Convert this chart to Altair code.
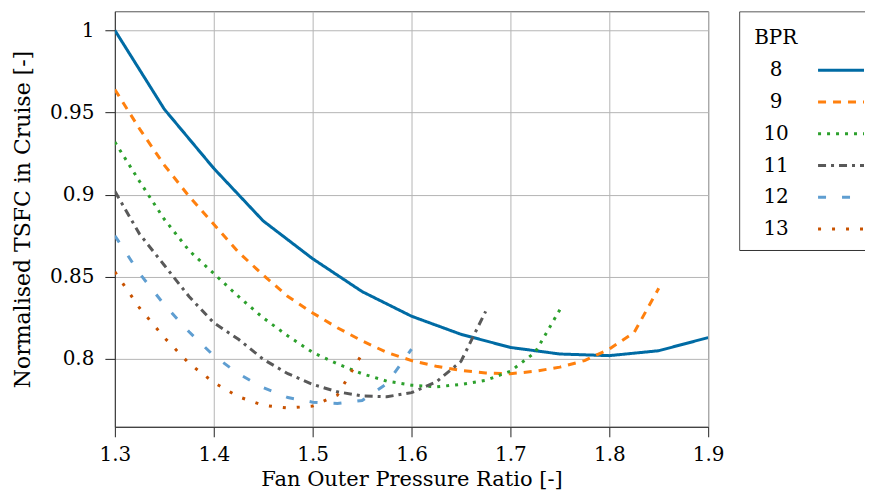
import altair as alt
import pandas as pd

FONT = "DejaVu Serif"

bpr_levels = ["8", "9", "10", "11", "12", "13"]

fpr_8 = [1.30, 1.35, 1.40, 1.45, 1.50, 1.55, 1.60, 1.65, 1.70, 1.75, 1.80, 1.85, 1.90]
tsfc_8 = [1.000, 0.952, 0.916, 0.884, 0.861, 0.841, 0.826, 0.815, 0.807, 0.803, 0.802, 0.805, 0.813]

fpr_9 = [1.300, 1.325, 1.350, 1.375, 1.400, 1.425, 1.450, 1.475, 1.500, 1.525, 1.550, 1.575,
         1.600, 1.625, 1.650, 1.675, 1.700, 1.725, 1.750, 1.775, 1.800, 1.825, 1.850]
tsfc_9 = [0.964, 0.940, 0.918, 0.899, 0.882, 0.865, 0.851, 0.838, 0.828, 0.819, 0.811, 0.804,
          0.799, 0.7955, 0.793, 0.7915, 0.791, 0.7925, 0.795, 0.799, 0.806, 0.816, 0.843]

fpr_10 = [1.300, 1.325, 1.350, 1.375, 1.400, 1.425, 1.450, 1.475, 1.500, 1.525, 1.550, 1.575,
          1.600, 1.625, 1.650, 1.675, 1.700, 1.725, 1.750]
tsfc_10 = [0.932, 0.908, 0.885, 0.866, 0.852, 0.838, 0.825, 0.814, 0.804, 0.797, 0.791, 0.7865,
           0.784, 0.783, 0.7845, 0.787, 0.7925, 0.804, 0.830]

fpr_11 = [1.300, 1.325, 1.350, 1.375, 1.400, 1.425, 1.450, 1.475, 1.500, 1.525, 1.550, 1.575,
          1.600, 1.625, 1.650, 1.675]
tsfc_11 = [0.902, 0.876, 0.857, 0.838, 0.822, 0.812, 0.7998, 0.791, 0.7845, 0.780, 0.7775, 0.777,
           0.7795, 0.786, 0.7985, 0.829]

fpr_12 = [1.300, 1.325, 1.350, 1.375, 1.400, 1.425, 1.450, 1.475, 1.500, 1.525, 1.550, 1.575, 1.600]
tsfc_12 = [0.875, 0.852, 0.833, 0.8165, 0.802, 0.791, 0.7825, 0.7765, 0.7737, 0.7729, 0.7747,
           0.785, 0.806]

fpr_13 = [1.300, 1.325, 1.350, 1.375, 1.400, 1.425, 1.450, 1.475, 1.500, 1.525, 1.550]
tsfc_13 = [0.853, 0.831, 0.813, 0.7973, 0.7857, 0.777, 0.7718, 0.7701, 0.7713, 0.778, 0.803]

x_ticks = [1.3, 1.4, 1.5, 1.6, 1.7, 1.8, 1.9]
y_ticks = [0.8, 0.85, 0.9, 0.95, 1.0]

series = [
    ("8", fpr_8, tsfc_8),
    ("9", fpr_9, tsfc_9),
    ("10", fpr_10, tsfc_10),
    ("11", fpr_11, tsfc_11),
    ("12", fpr_12, tsfc_12),
    ("13", fpr_13, tsfc_13),
]
rows = []
for b, xs, ys in series:
    for xv, yv in zip(xs, ys):
        rows.append({"bpr": b, "fpr": xv, "tsfc": yv})
df = pd.DataFrame(rows)

colors = ["#006BA4", "#FF800E", "#2CA02C", "#595959", "#5F9ED1", "#C85200"]
dashes = [[1, 0], [8, 7], [3, 6], [8, 5, 3, 5], [8, 16], [3, 11]]

color_enc = alt.Color("bpr:N", scale=alt.Scale(domain=bpr_levels, range=colors), legend=None)
dash_enc = alt.StrokeDash("bpr:N", scale=alt.Scale(domain=bpr_levels, range=dashes), legend=None)

main = alt.Chart(df).mark_line(strokeWidth=3, clip=True).encode(
    x=alt.X("fpr:Q",
            scale=alt.Scale(domain=[1.3, 1.9], nice=False, zero=False),
            axis=alt.Axis(values=x_ticks, format=".1f", title="Fan Outer Pressure Ratio [-]",
                          ticks=True, tickSize=10, tickColor="#222", tickWidth=1,
                          labelPadding=8, labelFlush=False, titleFontSize=21)),
    y=alt.Y("tsfc:Q",
            scale=alt.Scale(domain=[0.7587, 1.0116], nice=False, zero=False),
            axis=alt.Axis(values=y_ticks, format="~g", title="Normalised TSFC in Cruise [-]",
                          ticks=True, tickSize=10, tickColor="#222", tickWidth=1,
                          labelPadding=11, titlePadding=15, labelFlush=False, titleFontSize=22)),
    color=color_enc,
    strokeDash=dash_enc,
).properties(width=594, height=416, view=alt.ViewBackground(stroke="#555", strokeWidth=1))

leg_df = pd.DataFrame({"bpr": bpr_levels, "row": [8, 9, 10, 11, 12, 13]})
leg_title_df = pd.DataFrame({"t": ["BPR"], "row": [7]})
leg_y = alt.Y("row:Q", scale=alt.Scale(domain=[6.145, 13.69], reverse=True, nice=False, zero=False), axis=None)

leg_frame = alt.Chart(leg_title_df).mark_rect(fill="white", stroke="#333", strokeWidth=1, clip=True).encode(
    x=alt.value(0.5), x2=alt.value(300), y=alt.value(0.5), y2=alt.value(239.5))
leg_lines = alt.Chart(leg_df).mark_rule(strokeWidth=3).encode(
    x=alt.value(79), x2=alt.value(125), y=leg_y, color=color_enc, strokeDash=dash_enc)
leg_labels = alt.Chart(leg_df).mark_text(font=FONT, fontSize=20, align="center", baseline="middle").encode(
    x=alt.value(37), y=leg_y, text="bpr:N")
leg_title = alt.Chart(leg_title_df).mark_text(font=FONT, fontSize=20, align="left", baseline="middle").encode(
    x=alt.value(15), y=leg_y, text="t:N")
legend = alt.layer(leg_frame, leg_lines, leg_labels, leg_title).properties(
    width=126, height=240, view=alt.ViewBackground(stroke="transparent"))

chart = alt.hconcat(main, legend, spacing=31, bounds="flush").properties(
    padding={"left": 2, "top": 2, "right": 0, "bottom": 0}
).configure_axis(
    labelFont=FONT, titleFont=FONT, labelFontSize=20,
    titleFontWeight="normal", labelColor="black", titleColor="black",
    domainColor="#333", gridColor="#b5b5b5", gridWidth=1,
)

chart.save("out.html", embed_options={"renderer": "svg", "actions": False})
